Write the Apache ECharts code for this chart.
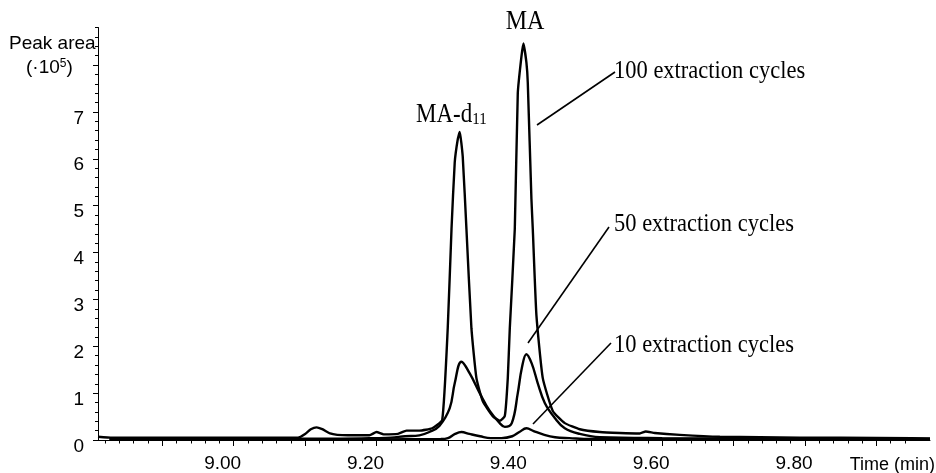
<!DOCTYPE html>
<html>
<head>
<meta charset="utf-8">
<script src="https://cdn.jsdelivr.net/npm/echarts@6/dist/echarts.min.js"></script>
<style>
html, body { margin: 0; padding: 0; background: #fff; }
#chart { width: 936px; height: 473px; }
</style>
</head>
<body>
<div id="chart"></div>
<script>
// retention time (min) / peak area (x10^5)
const time100 = [8.81, 8.83, 9.0, 9.08, 9.09, 9.1, 9.108, 9.116, 9.124, 9.135, 9.145, 9.16, 9.19, 9.2, 9.21, 9.23, 9.242, 9.26, 9.278, 9.292,
  9.2997, 9.305, 9.3095, 9.3137, 9.3165, 9.3207, 9.3259, 9.3329, 9.3399, 9.3487, 9.3627, 9.3725, 9.3796, 9.3838, 9.3866, 9.3936,
  9.3978, 9.4029, 9.4057, 9.4099, 9.4118, 9.4169, 9.4188, 9.4239, 9.4328, 9.4468, 9.4636, 9.4846, 9.5126, 9.5406, 9.5686, 9.577,
  9.5896, 9.6246, 9.6807, 9.7927, 9.85, 9.95, 9.975]
const area100 = [0.07, 0.05, 0.05, 0.05, 0.05, 0.13, 0.23, 0.27, 0.23, 0.14, 0.11, 0.1, 0.1, 0.17, 0.12, 0.13, 0.2, 0.2, 0.25, 0.43,
  2.38, 4.5, 5.92, 6.41, 6.57, 6.05, 4.5, 2.38, 1.32, 0.83, 0.51, 0.41, 0.51, 1.32, 2.38, 4.5,
  7.4, 8.18, 8.46, 8.05, 7.62, 5.14, 4.5, 2.66, 1.32, 0.62, 0.36, 0.23, 0.17, 0.15, 0.14, 0.18,
  0.15, 0.11, 0.07, 0.05, 0.05, 0.04, 0.03]

const time50 = [8.826, 9.0, 9.15, 9.2, 9.22, 9.24, 9.26, 9.274, 9.288, 9.3025, 9.3095, 9.3189, 9.3305, 9.3445, 9.3585, 9.3725,
  9.3796, 9.3894, 9.3978, 9.4034, 9.4099, 9.4174, 9.4258, 9.4356, 9.4496, 9.4636, 9.4846, 9.5126, 9.6, 9.8, 9.975]
const area50 = [0.03, 0.03, 0.03, 0.04, 0.05, 0.08, 0.1, 0.17, 0.3, 0.68, 1.21, 1.67, 1.42, 1.0, 0.62, 0.36,
  0.28, 0.36, 1.0, 1.53, 1.83, 1.63, 1.21, 0.79, 0.47, 0.25, 0.13, 0.06, 0.04, 0.03, 0.03]

const time10 = [8.826, 9.1, 9.29, 9.3, 9.31, 9.3189, 9.33, 9.345, 9.36, 9.375, 9.39, 9.4, 9.41, 9.42, 9.435, 9.45, 9.47, 9.5, 9.975]
const area10 = [0.01, 0.01, 0.02, 0.04, 0.13, 0.17, 0.13, 0.08, 0.04, 0.04, 0.08, 0.17, 0.25, 0.19, 0.11, 0.06, 0.04, 0.02, 0.02]

const xTickLabels = ['9.00', '9.20', '9.40', '9.60', '9.80']
const yTickLabels = ['0', '1', '2', '3', '4', '5', '6', '7']

const pair = (xs, ys) => xs.map((x, i) => [x, ys[i]])

// tick positions
const xMajor = []
const xMinor = []
for (let i = 0; i <= 56; i++) {
  const v = +(8.82 + i * 0.02).toFixed(2)
  if (i % 5 === 4) xMajor.push(v)
  else xMinor.push(v)
}
const yMajor = []
const yMinor = []
for (let i = 0; i <= 44; i++) {
  const v = +(i * 0.2).toFixed(1)
  if (i % 5 === 0) yMajor.push(v)
  else yMinor.push(v)
}

const sans = '"Liberation Sans", Arial, sans-serif'
const serif = '"Liberation Serif", "Times New Roman", serif'
const X_MIN = 8.81
const X_MAX = 9.975
const Y_MAX = 8.8

const lineSeries = (name, data, smooth) => ({
  name,
  type: 'line',
  data,
  xAxisIndex: 0,
  yAxisIndex: 0,
  showSymbol: false,
  smooth,
  lineStyle: { color: '#000', width: 2.4 },
  z: 3
})

const annText = (x, y, text, size) => ({
  type: 'text',
  x,
  y,
  scaleY: 1.15,
  style: { x: 0, y: 0, text, font: size + 'px ' + serif, fill: '#000', textVerticalAlign: 'middle' }
})
const leader = (x1, y1, x2, y2) => ({
  type: 'line',
  shape: { x1, y1, x2, y2 },
  style: { stroke: '#000', lineWidth: 1.6 }
})

const chart = echarts.init(document.getElementById('chart'))
chart.setOption({
  animation: false,
  backgroundColor: '#fff',
  grid: { left: 98, right: 6, top: 27.5, bottom: 31 },
  xAxis: [
    {
      type: 'value',
      min: X_MIN,
      max: X_MAX,
      splitLine: { show: false },
      axisLine: { lineStyle: { color: '#000', width: 1 } },
      axisTick: { customValues: xMajor, length: 6, lineStyle: { color: '#000' } },
      axisLabel: {
        customValues: xTickLabels.map(Number),
        formatter: v => xTickLabels.find(t => Math.abs(Number(t) - v) < 1e-6),
        color: '#000',
        fontFamily: sans,
        fontSize: 19,
        margin: 14,
        padding: [0, 22, 0, 0]
      }
    },
    {
      type: 'value',
      min: X_MIN,
      max: X_MAX,
      position: 'bottom',
      splitLine: { show: false },
      axisLine: { show: false },
      axisTick: { customValues: xMinor, length: 3.5, lineStyle: { color: '#000' } },
      axisLabel: { show: false }
    }
  ],
  yAxis: [
    {
      type: 'value',
      min: 0,
      max: Y_MAX,
      position: 'left',
      splitLine: { show: false },
      axisLine: { show: true, lineStyle: { color: '#000', width: 1 } },
      axisTick: { show: true, customValues: yMajor, length: 5, lineStyle: { color: '#000' } },
      axisLabel: {
        customValues: yTickLabels.map(Number),
        formatter: v => String(v),
        color: '#000',
        fontFamily: sans,
        fontSize: 19,
        margin: 14,
        verticalAlign: 'top',
        lineHeight: 13
      }
    },
    {
      type: 'value',
      min: 0,
      max: Y_MAX,
      position: 'left',
      offset: 0,
      splitLine: { show: false },
      axisLine: { show: false },
      axisTick: { show: true, customValues: yMinor, length: 3, lineStyle: { color: '#000' } },
      axisLabel: { show: false }
    }
  ],
  series: [
    lineSeries('10 extraction cycles', pair(time10, area10), 0.4),
    lineSeries('50 extraction cycles', pair(time50, area50), 0.4),
    lineSeries('100 extraction cycles', pair(time100, area100), 0.15)
  ],
  graphic: [
    { type: 'text', x: 9, y: 44, style: { x: 0, y: 0, text: 'Peak area', font: '19px ' + sans, fill: '#000', textVerticalAlign: 'middle' } },
    {
      type: 'text',
      x: 26,
      y: 68,
      style: {
        x: 0,
        y: 0,
        text: '(·10{sup|5})',
        font: '19px ' + sans,
        fill: '#000',
        textVerticalAlign: 'middle',
        rich: { sup: { fontSize: 12, fontFamily: sans, verticalAlign: 'top', padding: [0, 0, 8, 0] } }
      }
    },
    { type: 'text', x: 935, y: 465, style: { x: 0, y: 0, text: 'Time (min)', font: '18px ' + sans, fill: '#000', textAlign: 'right', textVerticalAlign: 'middle' } },
    {
      type: 'text',
      x: 525,
      y: 22,
      scaleY: 1.15,
      style: { x: 0, y: 0, text: 'MA', font: '24px ' + serif, fill: '#000', textAlign: 'center', textVerticalAlign: 'middle' }
    },
    {
      type: 'text',
      x: 416,
      y: 115,
      scaleY: 1.15,
      style: {
        x: 0,
        y: 0,
        text: 'MA-d{sub|11}',
        font: '23px ' + serif,
        fill: '#000',
        textVerticalAlign: 'middle',
        rich: { sub: { fontSize: 15, fontFamily: serif, verticalAlign: 'bottom', padding: [8, 0, 0, 0] } }
      }
    },
    annText(614, 71, '100 extraction cycles', 22.5),
    annText(614, 224, '50 extraction cycles', 22.5),
    annText(614, 345, '10 extraction cycles', 22.5),
    leader(537, 125, 615, 72),
    leader(528, 343, 609, 227),
    leader(533, 424, 611, 343)
  ]
})
</script>
</body>
</html>
